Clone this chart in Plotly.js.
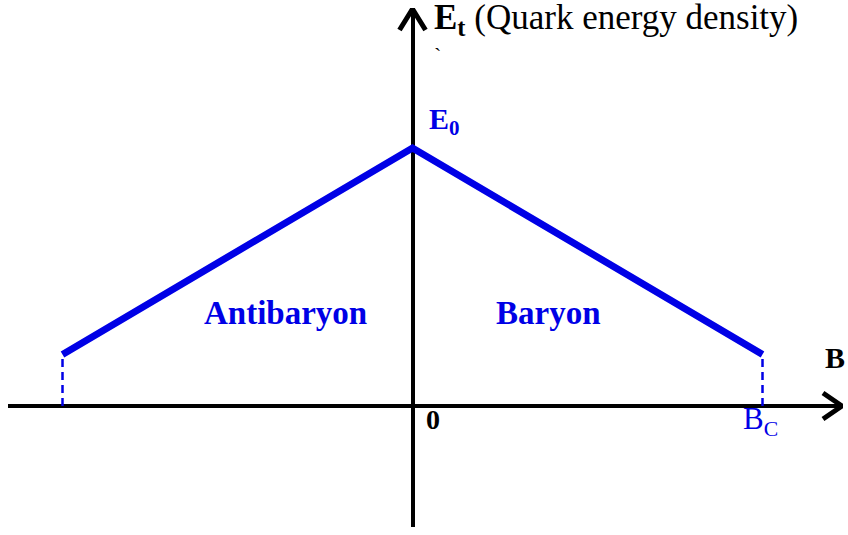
<!DOCTYPE html>
<html>
<head>
<meta charset="utf-8">
<script src="https://cdn.plot.ly/plotly-3.0.1.min.js"></script>
<style>
  html, body { margin: 0; padding: 0; background: #fff; }
  #chart { width: 848px; height: 535px; }
</style>
</head>
<body>
<div id="chart"></div>
<script>
// schematic: quark energy density vs baryon number
var bValues = [-1, 0, 1];          // -Bc, 0, Bc
var eValues = [0.2, 1, 0.2];       // E at -Bc, E0, E at Bc
var edgeB = [-1, 1];
var edgeE = [0.2, 0.2];

var blue = '#0000e6';
var serif = 'Liberation Serif';

// plot area in pixels: x 8..843, y 8..527
function px(x) { return (x - 8) / 835; }
function py(y) { return (527 - y) / 519; }

var traces = [
  {
    x: bValues, y: eValues,
    type: 'scatter', mode: 'lines',
    line: { color: blue, width: 7 },
    hoverinfo: 'skip'
  }
];
edgeB.forEach(function (b, i) {
  traces.push({
    x: [b, b], y: [0, edgeE[i]],
    type: 'scatter', mode: 'lines',
    line: { color: blue, width: 2.5, dash: '8px,5px' },
    hoverinfo: 'skip'
  });
});

function label(text, x, y, size, color, anchor) {
  return {
    text: text, xref: 'paper', yref: 'paper',
    x: px(x), y: py(y), xanchor: anchor || 'center', yanchor: 'middle',
    showarrow: false,
    font: { family: serif, size: size, color: color }
  };
}

var layout = {
  width: 848,
  height: 535,
  margin: { l: 8, r: 5, t: 8, b: 8 },
  paper_bgcolor: '#fff',
  plot_bgcolor: '#fff',
  showlegend: false,
  font: { family: serif },
  xaxis: {
    range: [(8 - 412.5) / 350, (843 - 412.5) / 350],
    showgrid: false, showticklabels: false, ticks: '',
    zeroline: true, zerolinecolor: '#000', zerolinewidth: 4,
    fixedrange: true
  },
  yaxis: {
    range: [(406 - 527) / 258, (406 - 8) / 258],
    showgrid: false, showticklabels: false, ticks: '',
    zeroline: true, zerolinecolor: '#000', zerolinewidth: 4,
    fixedrange: true
  },
  shapes: [
    // arrow heads (pixel offsets from axis ends)
    {
      type: 'path', xref: 'x', yref: 'y',
      xsizemode: 'pixel', ysizemode: 'pixel',
      xanchor: (843 - 412.5) / 350, yanchor: 0,
      path: 'M-20,13 L-1,0 L-20,-13',
      line: { color: '#000', width: 5 }
    },
    {
      type: 'path', xref: 'x', yref: 'y',
      xsizemode: 'pixel', ysizemode: 'pixel',
      xanchor: 0, yanchor: (406 - 8) / 258,
      path: 'M-13,-22 L0,-1 L13,-22',
      line: { color: '#000', width: 5 }
    }
  ],
  annotations: [
    label('<b>E<sub>t</sub></b> (Quark energy density)', 432, 20, 35, '#000', 'left'),
    label('`', 438, 55, 22, '#000'),
    label('<b>E<sub>0</sub></b>', 427, 121, 30, blue, 'left'),
    label('<b>Antibaryon</b>', 285, 313, 33, blue),
    label('<b>Baryon</b>', 548, 313, 33, blue),
    label('<b>B</b>', 835, 358, 30, '#000'),
    label('<b>0</b>', 433, 419, 28, '#000'),
    label('B<sub>C</sub>', 741, 421, 31, blue, 'left')
  ]
};

Plotly.newPlot('chart', traces, layout, { displayModeBar: false, staticPlot: true });
</script>
</body>
</html>
